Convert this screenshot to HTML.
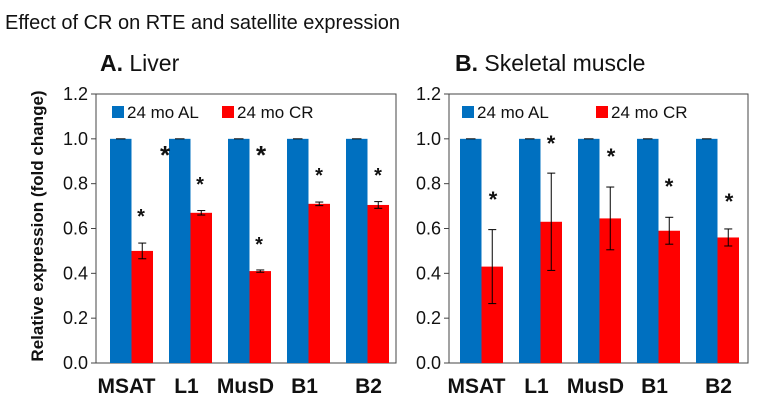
<!DOCTYPE html>
<html><head><meta charset="utf-8"><style>
body{margin:0;background:#fff;width:771px;height:402px;overflow:hidden}
svg{font-family:"Liberation Sans",Arial,sans-serif}
</style></head><body>
<svg width="771" height="402">
<text x="5" y="29" font-size="20" fill="#111">Effect of CR on RTE and satellite expression</text>
<text x="43" y="226" font-size="17" font-weight="bold" fill="#111" text-anchor="middle" transform="rotate(-90 43 226)">Relative expression (fold change)</text>
<g id="panels"></g>
</svg>
<script>
const categories=["MSAT","L1","MusD","B1","B2"];
const alValues=[1,1,1,1,1];
const liverCR=[0.50,0.67,0.41,0.71,0.705];
const liverErr=[0.035,0.01,0.005,0.008,0.015];
const muscleCR=[0.43,0.63,0.645,0.59,0.56];
const muscleErr=[0.165,0.217,0.14,0.06,0.038];
const yTicks=[0,0.2,0.4,0.6,0.8,1.0,1.2];
const tickLabels=["0.0","0.2","0.4","0.6","0.8","1.0","1.2"];
const NS="http://www.w3.org/2000/svg";
const root=document.getElementById('panels');
function mk(tag,attrs,parent){const e=document.createElementNS(NS,tag);for(const k in attrs)e.setAttribute(k,attrs[k]);(parent||root).appendChild(e);return e;}
const y0=363,y1=94;
function yS(v){return y0-(v/1.2)*(y0-y1);}
function panel(o){
  const g=mk('g',{});
  
  
  const t=mk('text',{x:o.tx,y:71,'font-size':23,fill:'#111'},g);
  t.innerHTML='<tspan font-weight="bold">'+o.letter+'</tspan> '+o.title;
  
  
  const fr=mk('rect',{x:o.left,y:y1,width:o.right-o.left,height:y0-y1,fill:'none',stroke:'#444','stroke-width':1},g);
  
  
  yTicks.forEach((v,i)=>{
    mk('line',{x1:o.left-5,x2:o.left,y1:yS(v),y2:yS(v),stroke:'#444'},g);
    const tl=mk('text',{x:o.left-8,y:yS(v)+6,'font-size':18,'text-anchor':'end',fill:'#111'},g);
    tl.textContent=tickLabels[i];
    
    
  });
  const bw=21.5;
  categories.forEach((c,i)=>{
    const x=o.first+i*59;
    const b=mk('rect',{x:x,y:yS(alValues[i]),width:bw,height:yS(0)-yS(alValues[i]),fill:'#0070C0'},g);
    
    
    mk('line',{x1:x+6,x2:x+bw-6,y1:yS(alValues[i]),y2:yS(alValues[i]),stroke:'#000'},g);
    const v=o.cr[i],e=o.err[i];
    const r=mk('rect',{x:x+bw,y:yS(v),width:bw,height:yS(0)-yS(v),fill:'#FF0000'},g);
    
    
    const cx=x+bw*1.5;
    mk('line',{x1:cx,x2:cx,y1:yS(v+e),y2:yS(v-e),stroke:'#000'},g);
    mk('line',{x1:cx-4,x2:cx+4,y1:yS(v+e),y2:yS(v+e),stroke:'#000'},g);
    mk('line',{x1:cx-4,x2:cx+4,y1:yS(v-e),y2:yS(v-e),stroke:'#000'},g);
    const cl=mk('text',{x:x+bw+o.lx[i],y:393,'font-size':21,'font-weight':'bold','text-anchor':'middle',fill:'#111'},g);
    cl.textContent=c;
    
    
  });
  o.stars.forEach(s=>{
    const st=mk('text',{x:s[0],y:s[1]+11,'font-size':s[2],'font-weight':'bold','text-anchor':'middle',fill:'#111'},g);
    st.textContent='*';
    
    
  });
  [[o.lg[0],'#0070C0','24 mo AL'],[o.lg[1],'#FF0000','24 mo CR']].forEach(l=>{
    mk('rect',{x:l[0],y:106,width:12,height:12,fill:l[1]},g);
    const lt=mk('text',{x:l[0]+15,y:118,'font-size':17,fill:'#111'},g);
    lt.textContent=l[2];
    
    
  });
}
panel({name:'panel-liver',letter:'A.',title:'Liver',tx:100,left:96,right:396,first:110,cr:liverCR,err:liverErr,lg:[112,222],lx:[-5,-4,-4,-4,1],
  stars:[[141,212,20],[165,153,26],[200,180,20],[261,153,26],[259,240,20],[319,171,20],[378,171,20]]});
panel({name:'panel-muscle',letter:'B.',title:'Skeletal muscle',tx:455,left:449,right:748,first:460,cr:muscleCR,err:muscleErr,lg:[462,596],lx:[-5,-4,-4,-4,1],
  stars:[[493,196,22],[551,140,22],[611,153,22],[669,183,22],[729,198,22]]});
</script>
</body></html>
